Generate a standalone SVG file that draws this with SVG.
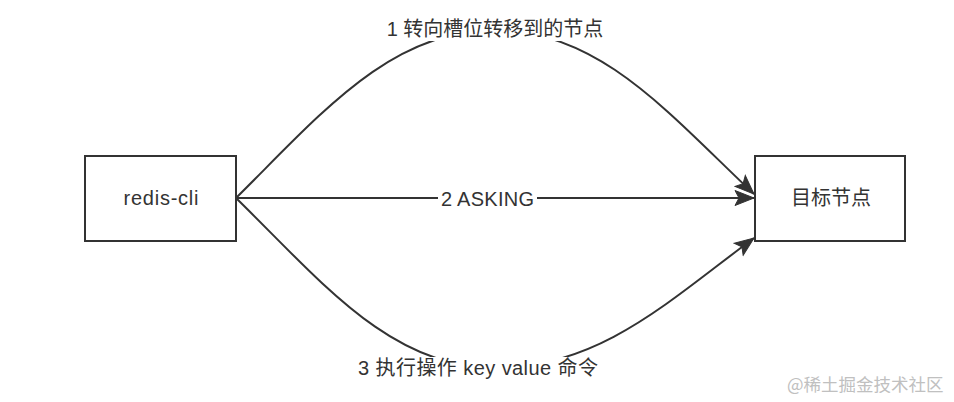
<svg xmlns="http://www.w3.org/2000/svg" width="954" height="402" viewBox="0 0 954 402">
<style>
.box{fill:#fff;stroke:#333;stroke-width:2}
.edge{fill:none;stroke:#333;stroke-width:2}
.t{font-family:"Liberation Sans","Noto Sans CJK SC",sans-serif;font-size:20px;fill:#333;text-anchor:middle}
.bg{fill:#fff}
.wm{font-family:"Noto Sans CJK SC",sans-serif;font-size:17.5px;fill:#c0c0c0}
</style>
<defs>
<marker id="arr" markerUnits="userSpaceOnUse" markerWidth="22" markerHeight="18" viewBox="0 0 22 18" refX="20" refY="9" orient="auto">
<path d="M1,1.5 L20,9 L1,16.5 L5,9 z" fill="#333" stroke="#333" stroke-width="1"/>
</marker>
</defs>
<rect width="954" height="402" fill="#fff"/>
<g id="connectors">
<path class="edge" d="M236,198 C320,115 390,30 495,30 C600,30 670,115 754,194" marker-end="url(#arr)"/>
<path class="edge" d="M236,198 L754,198" marker-end="url(#arr)"/>
<path class="edge" d="M236,198 C320,280 390,368 495,368 C600,368 670,300 754,238" marker-end="url(#arr)"/>
<rect class="bg" x="382" y="18" width="226" height="23"/>
<text class="t" x="495" y="36">1 转向槽位转移到的节点</text>
<rect class="bg" x="438" y="187" width="99" height="24"/>
<text class="t" x="487.5" y="206" textLength="93">2 ASKING</text>
<rect class="bg" x="355" y="357" width="246" height="23"/>
<text class="t" x="478" y="375" textLength="240">3 执行操作 key value 命令</text>
</g>
<g id="redis-cli">
<rect class="box" x="85" y="156" width="151" height="85"/>
<text class="t" x="161" y="205" textLength="75">redis-cli</text>
</g>
<g id="target">
<rect class="box" x="755" y="156" width="150" height="85"/>
<text class="t" x="831" y="205">目标节点</text>
</g>
<text class="wm" x="787" y="391">@稀土掘金技术社区</text>
</svg>
